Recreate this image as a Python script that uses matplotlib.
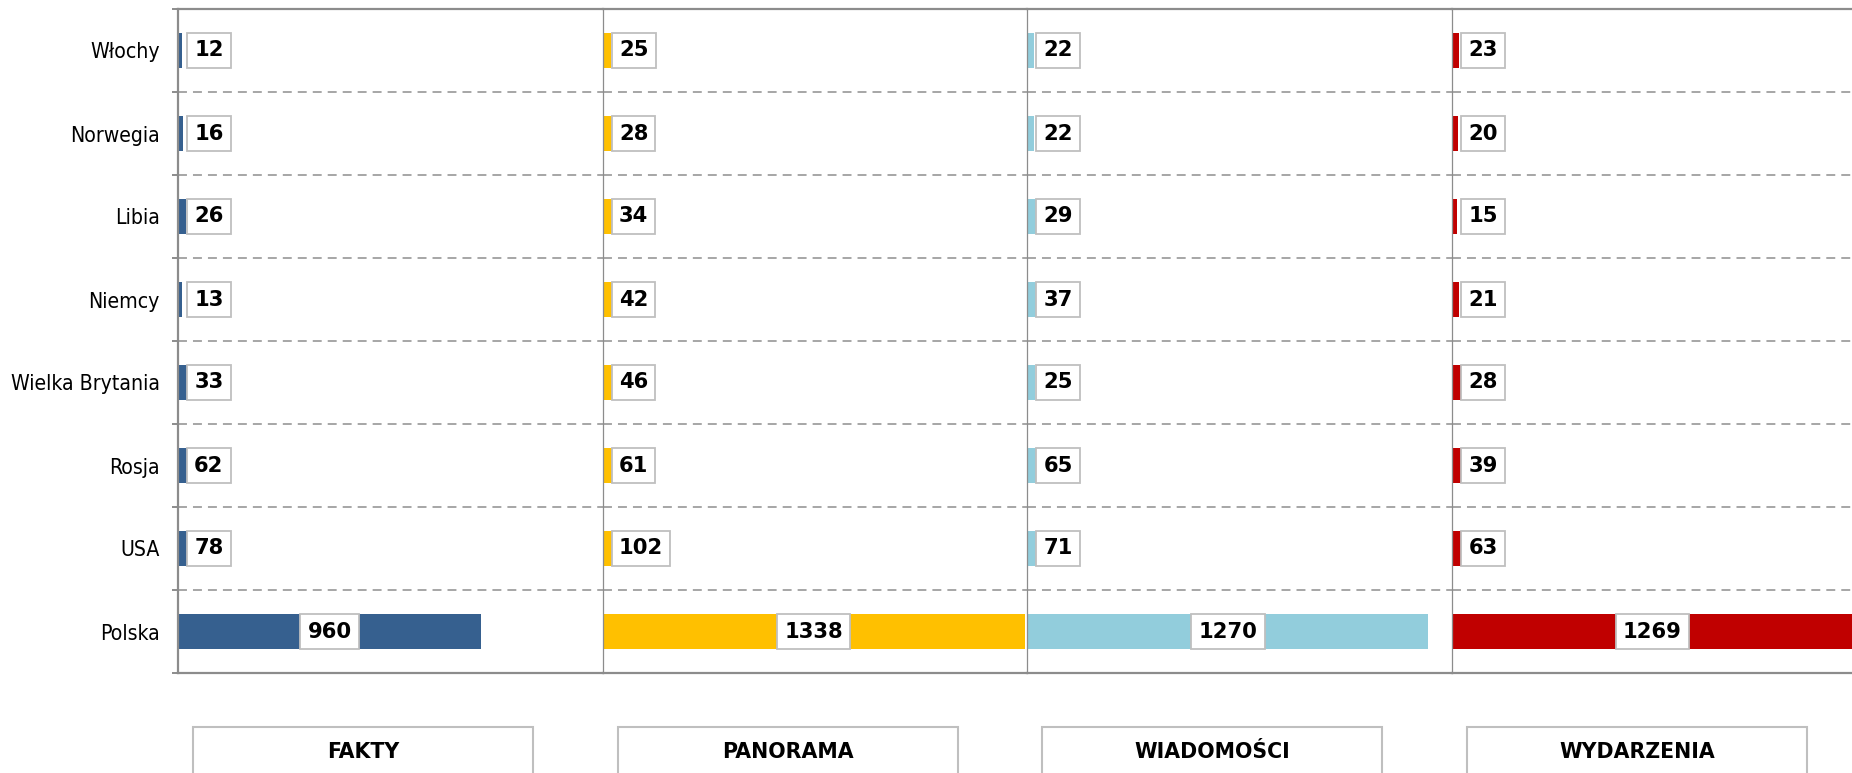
import matplotlib
matplotlib.use('Agg')
import matplotlib.pyplot as plt
from matplotlib.patches import Rectangle
from matplotlib import font_manager as fm

# ---------------- data ----------------
countries = ['Włochy', 'Norwegia', 'Libia', 'Niemcy', 'Wielka Brytania', 'Rosja', 'USA', 'Polska']
programs = ['FAKTY', 'PANORAMA', 'WIADOMOŚCI', 'WYDARZENIA']
fakty = [12, 16, 26, 13, 33, 62, 78, 960]
panorama = [25, 28, 34, 42, 46, 61, 102, 1338]
wiadomosci = [22, 22, 29, 37, 25, 65, 71, 1270]
wydarzenia = [23, 20, 15, 21, 28, 39, 63, 1269]
series = [fakty, panorama, wiadomosci, wydarzenia]
colors = ['#36608F', '#FFC000', '#92CDDC', '#C00000']
xmax = 1345

# ---------------- fonts ----------------
path = fm.findfont(fm.FontProperties(family='DejaVu Sans', stretch='condensed'))
has_cond = 'Condensed' in path
if has_cond:
    tick_kw = dict(family='DejaVu Sans', stretch='condensed', size=15.2)
else:
    tick_kw = dict(family='DejaVu Sans', size=13.2)
num_kw = dict(family='DejaVu Sans', weight='bold', size=15.2)
pad = 0.34
cat_kw = dict(family='DejaVu Sans', weight='bold', size=14.8)

W, H = 1852, 773
fig = plt.figure(figsize=(W / 100, H / 100), dpi=100)
left0, pw, top, bottom = 178, 424.7, 9, 673
gray = '#8C8C8C'
n = len(countries)
ys = list(range(n - 1, -1, -1))
fs_px = num_kw['size'] / 0.72
offset_pt = (9 + pad * fs_px) * 0.72

for k, (name, vals) in enumerate(zip(programs, series)):
    ax = fig.add_axes([(left0 + k * pw) / W, (H - bottom) / H, pw / W, (bottom - top) / H])
    ax.set_xlim(0, xmax)
    ax.set_ylim(-0.5, n - 0.5)
    ax.barh(ys, vals, height=0.41, color=colors[k], zorder=2)
    for j in range(n - 1):
        ax.axhline(j + 0.5, color='#A6A6A6', lw=1.4, ls=(0, (4.6, 3.1)), zorder=1)
    ax.spines['right'].set_visible(False)
    for s in ('top', 'bottom'):
        ax.spines[s].set_color(gray)
        ax.spines[s].set_linewidth(1.6)
    ax.spines['left'].set_color(gray)
    ax.spines['left'].set_linewidth(1.6 if k == 0 else 0.9)
    ax.set_xticks([])
    if k == 0:
        ax.set_yticks(ys)
        ax.set_yticklabels(countries, **tick_kw)
        ax.tick_params(axis='y', which='major', length=0, pad=13)
        ax.set_yticks([j - 0.5 for j in range(n + 1)], minor=True)
        ax.tick_params(axis='y', which='minor', length=4.3, width=1.4, color=gray)
    else:
        ax.set_yticks([])
    for i, v in enumerate(vals):
        y = ys[i]
        bb = dict(boxstyle='square,pad=%.2f' % pad, fc='white', ec='#BFBFBF', lw=1.3)
        if i == n - 1:
            ax.text(v / 2, y, str(v), ha='center', va='center', bbox=bb, zorder=4, **num_kw)
        else:
            ax.annotate(str(v), xy=(0, y), xytext=(offset_pt, 0), textcoords='offset points',
                        ha='left', va='center', bbox=bb, zorder=4, **num_kw)
    # category box below the panel
    bx0 = left0 + k * pw + 15
    fig.add_artist(Rectangle((bx0 / W, -0.05), 340 / W, (H - 727) / H + 0.05,
                             transform=fig.transFigure, fill=False, ec='#BFBFBF', lw=1.5))
    fig.text((bx0 + 170) / W, (H - 752) / H, name, ha='center', va='center', **cat_kw)

fig.savefig('out.png', dpi=100)
